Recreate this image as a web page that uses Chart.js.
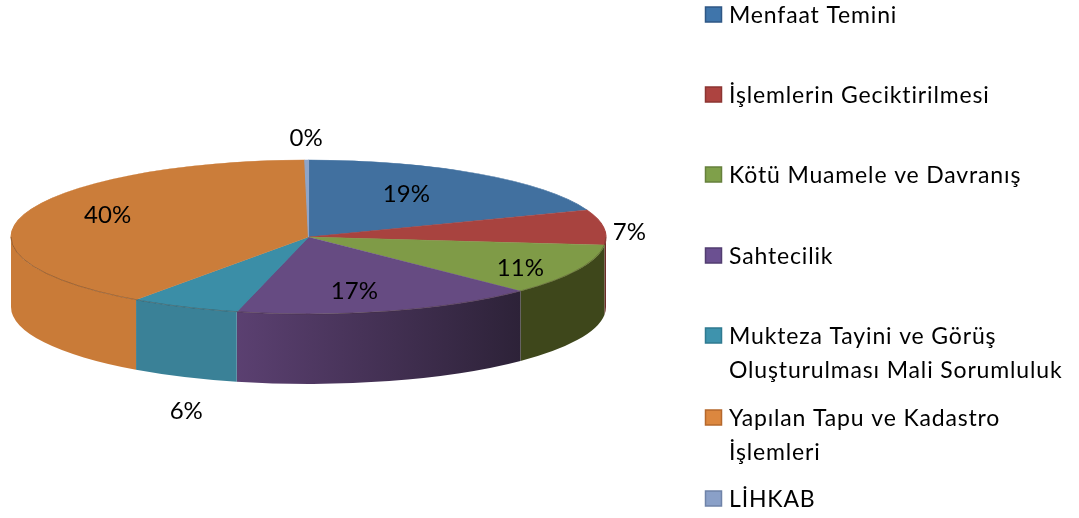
<!DOCTYPE html>
<html>
<head>
<meta charset="utf-8">
<script src="https://cdn.jsdelivr.net/npm/chart.js@4"></script>
<style>
  html, body { margin: 0; padding: 0; background: #fff; }
  canvas { display: block; }
</style>
</head>
<body>
<canvas id="pasta" width="1079" height="518"></canvas>
<script>
const kategoriler = ["Menfaat Temini", "İşlemlerin Geciktirilmesi", "Kötü Muamele ve Davranış", "Sahtecilik",
  "Mukteza Tayini ve Görüş Oluşturulması Mali Sorumluluk", "Yapılan Tapu ve Kadastro İşlemleri", "LİHKAB"];
const degerler = [19.4, 7.4, 10.8, 16.6, 6, 40.2, 0.2];

const ustRenk = ["#41709f", "#a8433f", "#7f9b47", "#664b82", "#3b8ea7", "#cb7d3a", "#8fa5c9"];
const yanBas = ["#2c4a6c", "#6e2b29", "#3e471b", "#2d2238", "#3a8197", "#c97b38", "#7f93b8"];
const yanSon = ["#2c4a6c", "#6e2b29", "#3e471b", "#5b4071", "#3a8197", "#c97b38", "#7f93b8"];
const legendRenk = ["#3f75ab", "#ad4340", "#7fa04a", "#6b5091", "#3e93ad", "#dc873f", "#8aa0c8"];
const legendKenar = ["#2f5785", "#8c3532", "#66803c", "#523d70", "#2f7a90", "#b5682c", "#6f83a8"];

// legend satirlari: her kategori icin kutu ve yazi
const legendSatir = [["Menfaat Temini"], ["İşlemlerin Geciktirilmesi"], ["Kötü Muamele ve Davranış"], ["Sahtecilik"],
  ["Mukteza Tayini ve Görüş", "Oluşturulması Mali Sorumluluk"], ["Yapılan Tapu ve Kadastro", "İşlemleri"], ["LİHKAB"]];
const legendY = [23, 103, 183, 264, 344, 426, 507];

// etiket: dilimin orta acisina gore yaricap carpani ve aci farki (derece)
const etiketYaricap = [0.65, 1.08, 0.82, 0.727, 2.3, 0.73, 1.286];
const etiketAci = [-4.3, 4.4, 4.5, 3.5, -14.4, 5, 0];

const merkezX = 308.5, merkezY = 237, rx = 297.5, ry = 77, derinlik = 70;
const yazi = "Lato, 'Open Sans', sans-serif";

const pasta3d = {
  id: "pasta3d",
  beforeDatasetsDraw(chart) {
    const ctx = chart.ctx;
    const yaylar = chart.getDatasetMeta(0).data;

    // yan duvarlar, sadece on yarim
    yaylar.forEach((yay, i) => {
      const a0 = Math.max(yay.startAngle, 0);
      const a1 = Math.min(yay.endAngle, Math.PI);
      if (a1 <= a0) return;
      const g = ctx.createLinearGradient(merkezX + rx * Math.cos(a0), 0, merkezX + rx * Math.cos(a1), 0);
      g.addColorStop(0, yanBas[i]);
      g.addColorStop(1, yanSon[i]);
      ctx.beginPath();
      ctx.ellipse(merkezX, merkezY, rx, ry, 0, a0, a1);
      ctx.ellipse(merkezX, merkezY + derinlik, rx, ry, 0, a1, a0, true);
      ctx.closePath();
      ctx.fillStyle = g;
      ctx.fill();
    });

    // ust yuzey icin daireyi elipse cevir
    const ilk = yaylar[0];
    ctx.save();
    ctx.translate(merkezX, merkezY);
    ctx.scale(rx / ilk.outerRadius, ry / ilk.outerRadius);
    ctx.translate(-ilk.x, -ilk.y);
  },
  afterDatasetsDraw(chart) {
    const ctx = chart.ctx;
    ctx.restore();
    const yaylar = chart.getDatasetMeta(0).data;
    const toplam = degerler.reduce((a, b) => a + b, 0);

    // ust kenar cizgisi
    ctx.lineWidth = 1;
    ctx.strokeStyle = "rgba(60,40,30,0.35)";
    ctx.beginPath();
    ctx.ellipse(merkezX, merkezY, rx, ry, 0, 0, Math.PI);
    ctx.stroke();

    // yuzde etiketleri
    ctx.font = "24px " + yazi;
    ctx.fillStyle = "#000";
    ctx.textAlign = "center";
    ctx.textBaseline = "middle";
    yaylar.forEach((yay, i) => {
      const orta = (yay.startAngle + yay.endAngle) / 2 + etiketAci[i] * Math.PI / 180;
      const x = merkezX + Math.cos(orta) * rx * etiketYaricap[i];
      const y = merkezY + Math.sin(orta) * ry * etiketYaricap[i];
      ctx.fillText(Math.round(degerler[i] / toplam * 100) + "%", x, y);
    });

    // legend
    ctx.font = "23px " + yazi;
    ctx.letterSpacing = "0.85px";
    ctx.textAlign = "left";
    ctx.textBaseline = "alphabetic";
    legendSatir.forEach((satirlar, i) => {
      const y = legendY[i];
      ctx.fillStyle = legendRenk[i];
      ctx.fillRect(705.5, y - 16, 16, 15);
      ctx.strokeStyle = legendKenar[i];
      ctx.lineWidth = 1.5;
      ctx.strokeRect(705.5, y - 16, 16, 15);
      ctx.fillStyle = "#000";
      satirlar.forEach((s, k) => ctx.fillText(s, 729, y + k * 33.5));
    });
  }
};

new Chart(document.getElementById("pasta"), {
  type: "pie",
  data: {
    labels: kategoriler,
    datasets: [{
      data: degerler,
      backgroundColor: ustRenk,
      borderColor: ustRenk,
      borderWidth: 1,
      clip: false
    }]
  },
  options: {
    responsive: false,
    animation: false,
    plugins: { legend: { display: false }, tooltip: { enabled: false } }
  },
  plugins: [pasta3d]
});
</script>
</body>
</html>
